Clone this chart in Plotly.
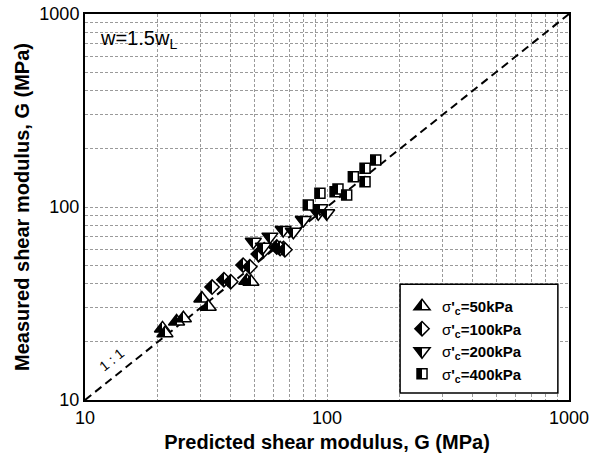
import plotly.graph_objects as go

# ---- data ----
pred_50 = [20.9, 21.4, 23.9, 25.5, 30.4, 32.3, 46.6, 48.5]
meas_50 = [23.5, 22.2, 25.5, 26.5, 33.6, 30.4, 41.5, 41.0]

pred_100 = [33.5, 37.5, 40.0, 45.0, 48.0, 52.0, 55.0, 62.0, 64.0, 67.0]
meas_100 = [38.5, 42.0, 41.0, 50.0, 49.0, 57.0, 60.0, 62.0, 61.0, 60.0]

pred_200 = [49.6, 54.6, 58.1, 65.9, 72.6, 79.8, 92.0, 93.5, 99.7]
meas_200 = [66.1, 62.3, 70.2, 76.0, 74.5, 85.6, 92.8, 98.4, 92.8]

pred_400 = [83.7, 93.5, 108.0, 111.0, 120.6, 128.5, 143.6, 143.6, 159.0]
meas_400 = [102.4, 117.8, 120.0, 124.0, 115.3, 143.6, 135.3, 158.6, 175.0]

one_to_one = [10, 1000]

major_ticks = [10, 100, 1000]
major_labels = ["10", "100", "1000"]
minor_ticks = [20, 30, 40, 50, 60, 70, 80, 90, 200, 300, 400, 500, 600, 700, 800, 900]

series = [
    ("σ'<sub>c</sub>=50kPa", pred_50, meas_50, "triangle-up", 14),
    ("σ'<sub>c</sub>=100kPa", pred_100, meas_100, "diamond", 11),
    ("σ'<sub>c</sub>=200kPa", pred_200, meas_200, "triangle-down", 14),
    ("σ'<sub>c</sub>=400kPa", pred_400, meas_400, "square", 10),
]

FONT = "Arial, Liberation Sans, sans-serif"
GRID = "#9a9a9a"

fig = go.Figure()

fig.add_trace(go.Scatter(
    x=one_to_one, y=one_to_one, mode="lines",
    line=dict(color="black", width=2, dash="8px,5px"),
    showlegend=False, hoverinfo="skip",
))

for i, (name, xs, ys, sym, sz) in enumerate(series):
    fig.add_trace(go.Scatter(
        x=xs, y=ys, mode="markers", name="<b>" + name.replace("σ", "</b>σ<b>") + "</b>",
        legendgroup="g%d" % i,
        marker=dict(symbol=sym, size=sz, color="white",
                    gradient=dict(type="horizontal", color="black"),
                    line=dict(color="black", width=1.5)),
    ))

axis_common = dict(
    type="log", range=[1, 3], automargin=False,
    tickvals=major_ticks, ticktext=major_labels,
    showgrid=True, gridcolor=GRID, griddash="3px,2px", gridwidth=1,
    minor=dict(tickvals=minor_ticks, showgrid=True, gridcolor=GRID,
               griddash="3px,2px", gridwidth=1, ticks=""),
    showline=True, linecolor="black", linewidth=2, mirror=True,
    ticks="", zeroline=False,
    tickfont=dict(family=FONT, size=18, color="black"),
)

fig.update_layout(
    width=601, height=461,
    margin=dict(l=85, r=32, t=14, b=61),
    paper_bgcolor="white", plot_bgcolor="white",
    font=dict(family=FONT, color="black"),
    xaxis=dict(axis_common, title=dict(text="<b>Predicted shear modulus, G (MPa)</b>",
                                       font=dict(family=FONT, size=20), standoff=8)),
    yaxis=dict(axis_common, title=dict(text="<b>Measured shear modulus, G (MPa)</b>",
                                       font=dict(family=FONT, size=20), standoff=4)),
    legend=dict(x=0.655, y=0.285, xanchor="left", yanchor="top",
                bgcolor="rgba(0,0,0,0)", borderwidth=0,
                font=dict(family=FONT, size=15, color="black"),
                tracegroupgap=0, itemsizing="trace"),
    shapes=[dict(type="rect", xref="paper", yref="paper",
                 x0=0.651, x1=0.977, y0=0.018, y1=0.30,
                 line=dict(color="black", width=1.5), fillcolor="white", layer="above")],
    annotations=[
        dict(text="w=1.5w<sub>L</sub>", xref="paper", yref="paper", x=0.027, y=0.933,
             xanchor="left", yanchor="middle", showarrow=False,
             font=dict(family=FONT, size=20, color="black")),
        dict(text="1 : 1", xref="paper", yref="paper", x=0.054, y=0.104,
             xanchor="center", yanchor="middle", showarrow=False, textangle=-39,
             font=dict(family=FONT, size=14, color="black")),
    ],
)

post = """
document.documentElement.style.margin = '0';
document.body.style.margin = '0';
document.body.style.padding = '0';
var gd = document.getElementById('{plot_id}');
function halfFill(){
  var grads = gd.querySelectorAll('linearGradient');
  grads.forEach(function(g){
    g.setAttribute('x1','0'); g.setAttribute('x2','1');
    g.setAttribute('y1','0'); g.setAttribute('y2','0');
    while(g.firstChild){ g.removeChild(g.firstChild); }
    [[0,'#000000'],[50,'#000000'],[50,'#ffffff'],[100,'#ffffff']].forEach(function(s){
      var st = document.createElementNS('http://www.w3.org/2000/svg','stop');
      st.setAttribute('offset', s[0] + '%');
      st.setAttribute('stop-color', s[1]);
      st.setAttribute('stop-opacity', '1');
      g.appendChild(st);
    });
  });
}
halfFill();
"""

fig.write_html("out.html", post_script=post, config={"displayModeBar": False})
